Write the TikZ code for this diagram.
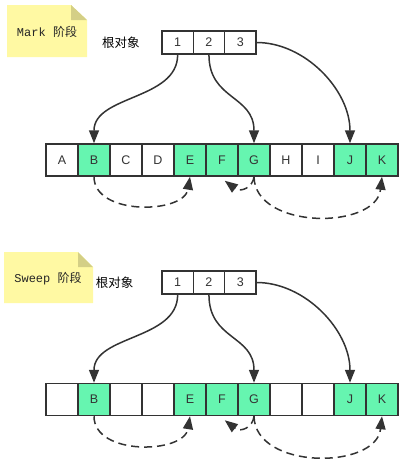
\documentclass[tikz,border=0pt]{standalone}
\usepackage{fontspec}
\setmainfont{Liberation Sans}
\newfontfamily\cjk{Noto Sans CJK SC}
\newfontfamily\monofnt{Liberation Mono}
\usetikzlibrary{arrows.meta}
\definecolor{lineC}{HTML}{333333}
\definecolor{liveC}{HTML}{66F5B0}
\definecolor{noteC}{HTML}{FFF9A3}
\definecolor{foldC}{HTML}{D4CF86}
\tikzset{
  cell/.style={draw=lineC, line width=1.5pt, minimum width=32pt, minimum height=32pt, inner sep=0pt, fill=white, font=\fontsize{12.5}{14}\selectfont, text=lineC},
  live/.style={cell, fill=liveC},
  rootbox/.style={draw=lineC, line width=1.5pt, minimum width=31.3pt, minimum height=23pt, inner sep=0pt, fill=white, font=\fontsize{12.5}{14}\selectfont, text=lineC},
  ref/.style={draw=lineC, line width=1.5pt, -{Triangle[length=13pt,width=10pt]}},
  dref/.style={ref, dash pattern=on 8pt off 5pt},
  label/.style={font=\fontsize{12.5}{14}\cjk, text=black, inner sep=0pt},
  notetext/.style={font=\fontsize{12}{14}\selectfont, text=black!85, inner sep=0pt}
}
\begin{document}
\begin{tikzpicture}[x=1pt,y=-1pt]
\useasboundingbox (0,0) rectangle (407,459);
% ---------- Mark phase ----------
\fill[noteC] (7,5) -- (71,5) -- (87,20) -- (87,57) -- (7,57) -- cycle;
\fill[foldC] (71,5) -- (87,20) -- (71,20) -- cycle;
\node[notetext] (n1) at (47,32) {{\monofnt Mark }{\cjk 阶段}};
\node[label] (l1) at (121,43) {根对象};
\node[rootbox] (a1) at (177.65,42.5) {1};
\node[rootbox] (a2) at (208.95,42.5) {2};
\node[rootbox] (a3) at (240.25,42.5) {3};
\foreach \n/\s [count=\i from 0] in {A/cell,B/live,C/cell,D/cell,E/live,F/live,G/live,H/cell,I/cell,J/live,K/live}{
  \node[\s] (t\n) at (62+32*\i,160) {\n};
}
\draw[ref] (a1.south) .. controls (177.65,100) and (94,95) .. (tB.north);
\draw[ref] (a2.south) .. controls (208.95,100) and (254,95) .. (tG.north);
\draw[ref] (a3.east) .. controls (305,42.5) and (350,90) .. (tJ.north);
\draw[dref] (tB.south) .. controls (94,216) and (184,214) .. (tE.south);
\draw[dref] (tG.south) .. controls (255,230) and (376,230) .. (tK.south);
\draw[dref] (tG.south) .. controls (253,187) and (241,193) .. ([xshift=-14pt,yshift=-4pt]tF.south east);
% ---------- Sweep phase ----------
\fill[noteC] (4,252) -- (78,252) -- (93,267) -- (93,303) -- (4,303) -- cycle;
\fill[foldC] (78,252) -- (93,267) -- (78,267) -- cycle;
\node[notetext] (n2) at (48,279) {{\monofnt Sweep }{\cjk 阶段}};
\node[label] (l2) at (114.5,283) {根对象};
\node[rootbox] (b1) at (177.65,282.5) {1};
\node[rootbox] (b2) at (208.95,282.5) {2};
\node[rootbox] (b3) at (240.25,282.5) {3};
\foreach \n/\s/\t [count=\i from 0] in {A/cell/{},B/live/B,C/cell/{},D/cell/{},E/live/E,F/live/F,G/live/G,H/cell/{},I/cell/{},J/live/J,K/live/K}{
  \node[\s] (s\n) at (62+32*\i,399.5) {\t};
}
\draw[ref] (b1.south) .. controls (177.65,340) and (94,335) .. (sB.north);
\draw[ref] (b2.south) .. controls (208.95,340) and (254,335) .. (sG.north);
\draw[ref] (b3.east) .. controls (305,282.5) and (350,330) .. (sJ.north);
\draw[dref] (sB.south) .. controls (94,456) and (184,454) .. (sE.south);
\draw[dref] (sG.south) .. controls (255,470) and (376,470) .. (sK.south);
\draw[dref] (sG.south) .. controls (253,427) and (241,433) .. ([xshift=-14pt,yshift=-4pt]sF.south east);
\end{tikzpicture}
\end{document}
